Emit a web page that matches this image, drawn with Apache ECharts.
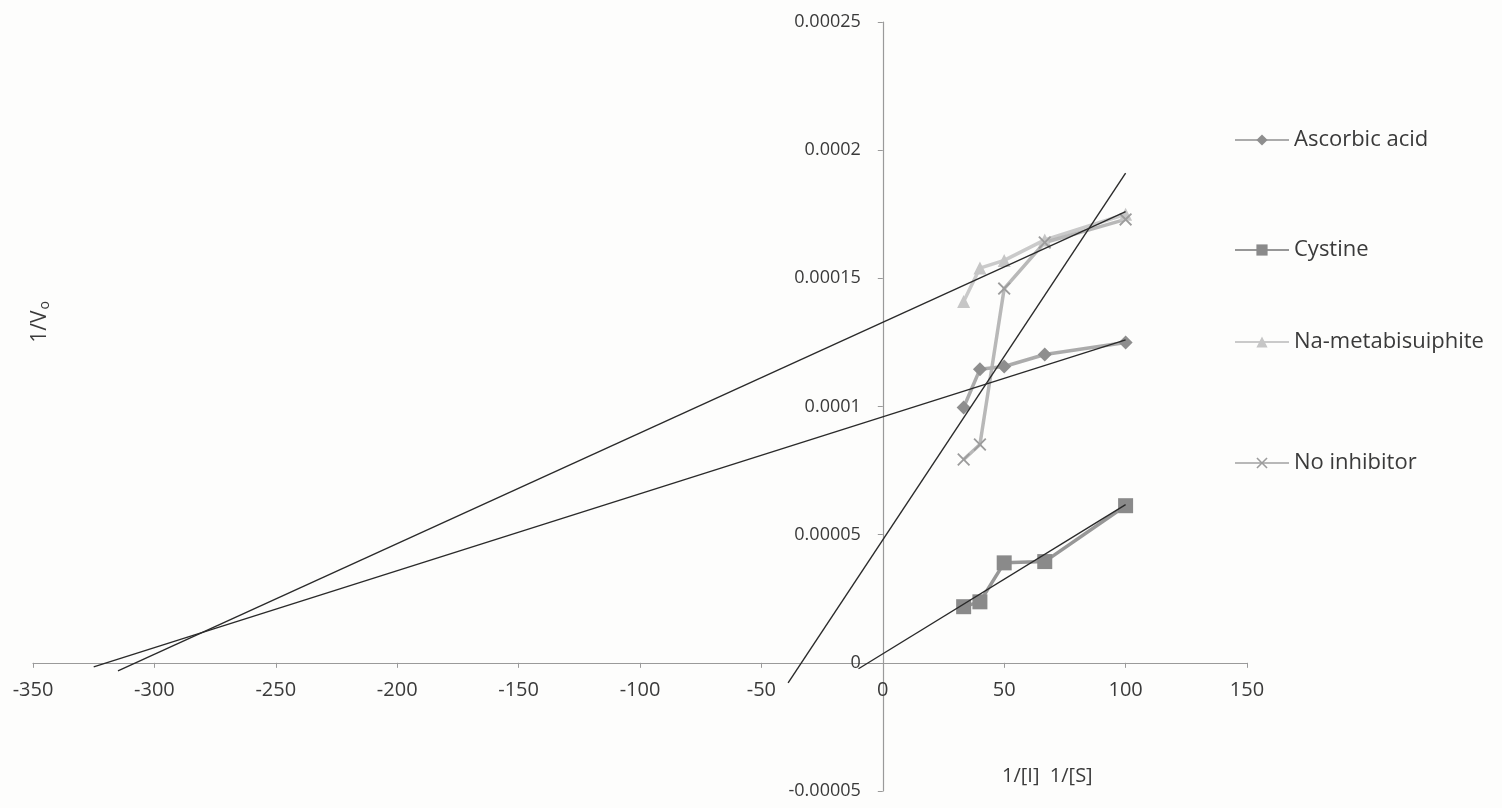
<!DOCTYPE html>
<html>
<head>
<meta charset="utf-8">
<script src="https://cdn.jsdelivr.net/npm/echarts@6/dist/echarts.min.js"></script>
<style>
html,body{margin:0;padding:0;background:#fdfdfc;}
#chart{width:1502px;height:808px;}
</style>
</head>
<body>
<div id="chart"></div>
<script>
// ---- data ----
const xInv = [33.3, 40, 50, 66.7, 100];          // 1/[S]
const ascorbic = [0.0000996, 0.0001145, 0.0001156, 0.0001203, 0.000125];
const cystine  = [0.0000219, 0.0000238, 0.000039, 0.0000395, 0.0000613];
const naMeta   = [0.000141, 0.000154, 0.000157, 0.000165, 0.000175];
const noInhib  = [0.0000793, 0.0000852, 0.000146, 0.000164, 0.000173];
// linear trend lines (Excel style, forecast backward): [x, y] end points
const trendAscorbic = [[-325, -0.0000016], [100, 0.000126]];
const trendCystine  = [[-10, -0.0000023], [100, 0.0000617]];
const trendNa       = [[-315, -0.0000031], [100, 0.000176]];
const trendNo       = [[-39, -0.0000078], [100, 0.000191]];
const seriesNames = ['Ascorbic acid', 'Cystine', 'Na-metabisuiphite', 'No inhibitor'];
const xTicks = {min: -350, max: 150, interval: 50};
const yTicks = {min: -0.00005, max: 0.00025, interval: 0.00005};
const xTitle = '1/[I]  1/[S]';
const yTitle = '{a|1/V}{s|o}';

const FONT = 'Open Sans';
const TXT = '#3a3a3a';
const pairs = (ys) => xInv.map((x, i) => [x, ys[i]]);
const X_PATH = 'path://M0,1 L1,0 L5,4 L9,0 L10,1 L6,5 L10,9 L9,10 L5,6 L1,10 L0,9 L4,5 Z';

// grid box (px) and where the axes cross (value 0 on each axis)
const W = 1502, H = 808;
const G = {left: 33, right: 255, top: 22, bottom: 17};
const gridW = W - G.left - G.right, gridH = H - G.top - G.bottom;
const yAxisOffset = -((0 - xTicks.min) / (xTicks.max - xTicks.min)) * gridW;
const xAxisOffset = -((0 - yTicks.min) / (yTicks.max - yTicks.min)) * gridH;

function dataSeries(name, ys, color, lineColor, symbol, size) {
  return {
    name: name, type: 'line', data: pairs(ys),
    symbol: symbol, symbolSize: size, showSymbol: true,
    lineStyle: {color: lineColor, width: 3.5, opacity: 0.9},
    itemStyle: {color: color, borderColor: color, borderWidth: 0},
    z: 2, animation: false
  };
}
function trendSeries(name, pts) {
  return {
    name: name, type: 'line', data: pts, symbol: 'none',
    lineStyle: {color: '#2a2a2a', width: 1.4},
    z: 3, animation: false, silent: true
  };
}

const legendTops = [124, 234, 326, 447];
const legends = seriesNames.map((n, i) => ({
  data: [n], left: 1229, top: legendTops[i], orient: 'vertical',
  itemWidth: 54, itemHeight: 14, itemGap: 4,
  textStyle: {fontFamily: FONT, fontSize: 22, color: TXT},
  selectedMode: false
}));

const chart = echarts.init(document.getElementById('chart'), null, {renderer: 'canvas'});
chart.setOption({
  backgroundColor: '#fdfdfc',
  animation: false,
  grid: Object.assign({containLabel: false, outerBoundsMode: 'none'}, G),
  legend: legends,
  xAxis: {
    type: 'value', min: xTicks.min, max: xTicks.max, interval: xTicks.interval,
    position: 'bottom', offset: xAxisOffset,
    axisLine: {onZero: false, lineStyle: {color: '#9a9a9a', width: 1.2}},
    axisTick: {show: true, inside: false, length: 5, lineStyle: {color: '#9a9a9a'}},
    splitLine: {show: false},
    axisLabel: {fontFamily: FONT, fontSize: 20, color: TXT, margin: 17}
  },
  yAxis: {
    type: 'value', min: yTicks.min, max: yTicks.max, interval: yTicks.interval,
    position: 'left', offset: yAxisOffset,
    axisLine: {onZero: false, lineStyle: {color: '#9a9a9a', width: 1.2}},
    axisTick: {show: true, inside: false, length: 5, lineStyle: {color: '#9a9a9a'}},
    splitLine: {show: false},
    axisLabel: {
      fontFamily: FONT, fontSize: 18, color: TXT, margin: 22,
      formatter: (v) => String(parseFloat(v.toFixed(6)))
    }
  },
  graphic: [{
    type: 'text', left: 1002, top: 766,
    style: {text: xTitle, fontFamily: FONT, fontSize: 20, fill: TXT}
  }, {
    type: 'text', x: 40, y: 322, rotation: Math.PI / 2,
    style: {
      text: yTitle, align: 'center', verticalAlign: 'middle',
      rich: {
        a: {fontFamily: FONT, fontSize: 21, fill: TXT},
        s: {fontFamily: FONT, fontSize: 14, fill: TXT, padding: [10, 0, 0, 1]}
      }
    }
  }],
  series: [
    dataSeries(seriesNames[0], ascorbic, '#8e8e8e', '#a2a2a2', 'diamond', 14),
    dataSeries(seriesNames[1], cystine, '#8a8a8a', '#8c8c8c', 'rect', 15),
    dataSeries(seriesNames[2], naMeta, '#c6c6c6', '#c4c4c4', 'triangle', 13),
    dataSeries(seriesNames[3], noInhib, '#9c9c9c', '#b0b0b0', X_PATH, 13),
    trendSeries('Linear (Ascorbic acid)', trendAscorbic),
    trendSeries('Linear (Cystine)', trendCystine),
    trendSeries('Linear (Na-metabisuiphite)', trendNa),
    trendSeries('Linear (No inhibitor)', trendNo)
  ]
});
</script>
</body>
</html>
